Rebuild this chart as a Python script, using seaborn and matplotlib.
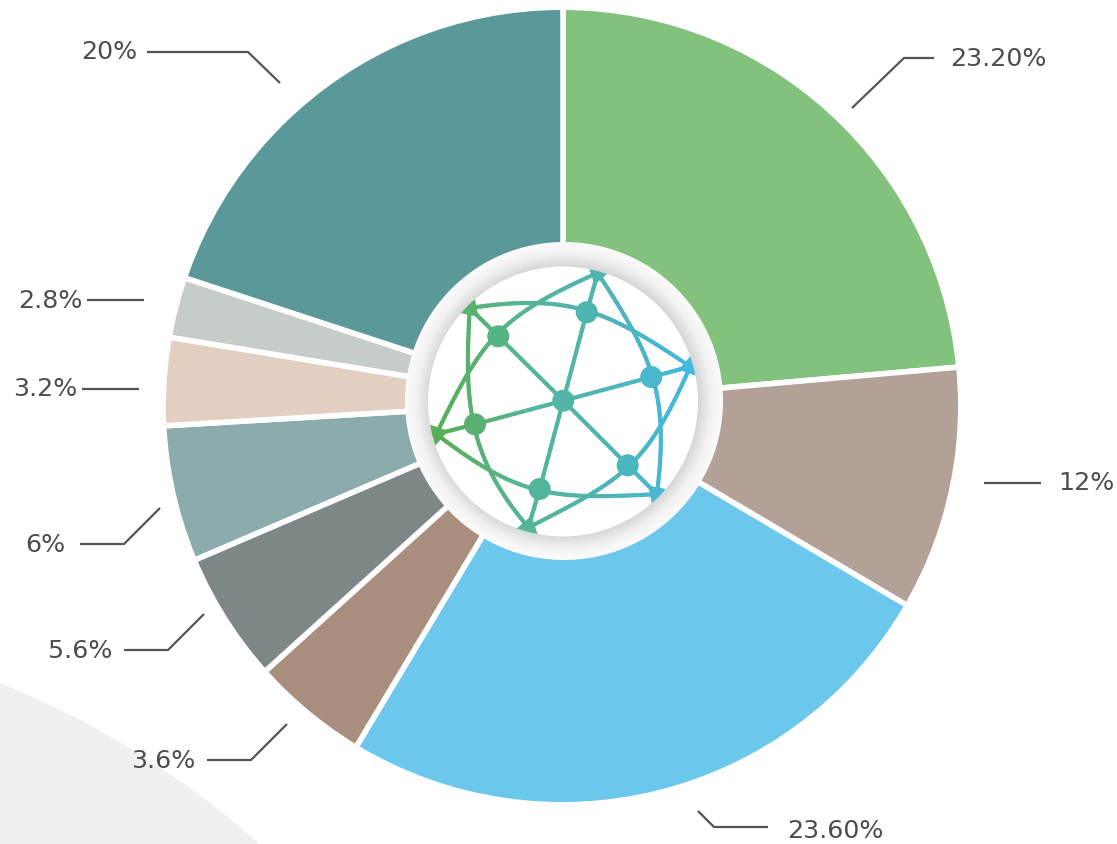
import numpy as np
import matplotlib
matplotlib.use('Agg')
import matplotlib.pyplot as plt
import seaborn as sns
from matplotlib.collections import LineCollection
from matplotlib.patches import Circle, Polygon

# slice sizes as drawn (the arcs do not quite follow the printed numbers)
sizes = [23.6, 9.9, 25.1, 4.7, 5.25, 5.5, 3.55, 2.45, 19.95]
labels = ['23.20%', '12%', '23.60%', '3.6%', '5.6%', '6%', '3.2%', '2.8%', '20%']
colors = ['#82c27c', '#b3a198', '#6cc7ec', '#aa8e7d', '#7e8788',
          '#8babad', '#e3cfc1', '#c6ccc8', '#5b9899']

# label centre and leader line, in pixels
label_pos = [(998, 59), (1086, 483), (835, 831), (163, 761), (80, 651),
             (45, 545), (45, 389), (50, 301), (109, 52)]
leaders = [
    [(852, 108), (904, 58), (934, 58)],
    [(984, 483), (1041, 483)],
    [(698, 811), (714, 827), (768, 827)],
    [(207, 760), (251, 760), (287, 724)],
    [(124, 650), (168, 650), (204, 614)],
    [(80, 544), (124, 544), (160, 508)],
    [(82, 389), (139, 389)],
    [(87, 300), (144, 300)],
    [(147, 52), (248, 52), (280, 83)],
]

# globe logo
hub = (563.3, 400.7)
nodes = [(498.3, 336.3), (586.7, 312.3), (651.3, 377), (627.7, 465.3), (539.7, 489), (475, 424.3)]
corners = [(470, 308.3), (597.7, 273.3), (690, 366.7), (656.7, 494), (528.3, 527.3), (436.7, 434)]
# each arc: corner, way point, node, way point, corner
arcs = [
    [corners[0], (533.3, 301.7), nodes[1], (633.3, 330), corners[2]],
    [corners[1], (633.3, 330), nodes[2], (661.7, 430), corners[3]],
    [corners[2], (660, 428.3), nodes[3], (588.3, 496.7), corners[4]],
    [corners[3], (588.3, 496.7), nodes[4], (490, 471.7), corners[5]],
    [corners[4], (490, 471.7), nodes[5], (466.7, 366.7), corners[0]],
    [corners[5], (466.7, 373), nodes[0], (536.7, 301.7), corners[1]],
]

sns.set_theme(style='white')
plt.rcParams['font.family'] = ['DejaVu Sans']

fig = plt.figure(figsize=(11.17, 8.44), dpi=100)
ax = fig.add_axes([0, 0, 1, 1])

# pale shape in the lower left corner
ax.add_patch(Circle((-337.5, 1518.5), 901, color='#f0f0f0', lw=0, zorder=0))

# y axis runs downwards, so the pie goes clockwise from the top.
# the slices meet a little above the middle of the outer circle, so draw the
# pie too big around that point and cut it back to the circle
wedges, _ = ax.pie(sizes, colors=sns.color_palette(colors), startangle=-90, counterclock=True,
                   center=(563, 402), radius=430, frame=True,
                   wedgeprops=dict(edgecolor='white', linewidth=4))
ax.set_xlim(0, 1117)
ax.set_ylim(844, 0)
ax.axis('off')
outer = Circle((562, 406), 396, transform=ax.transData)
for w in wedges:
    w.set_clip_on(True)  # pie turns clipping off
    w.set_clip_path(outer)

for text, pos, leader in zip(labels, label_pos, leaders):
    ax.text(pos[0], pos[1], text, ha='center', va='center', fontsize=18.2, color='#4d4d4d')
    xs, ys = zip(*leader)
    ax.plot(xs, ys, color='#555555', lw=1.6, solid_joinstyle='miter', solid_capstyle='butt')

# grey ring around the logo, darker towards the inside
ring_r = np.linspace(159, 135, 25)
ring_c = sns.blend_palette(['#fbfbfb', '#f1f1f1', '#d6d6d6'], len(ring_r))
for r, c in zip(ring_r, ring_c):
    ax.add_patch(Circle((564, 401), r, color=c, lw=0, zorder=5))
disc = Circle((563, 401.5), 135, facecolor='white', lw=0, zorder=6)
ax.add_patch(disc)

# logo colours run from green on the left to blue on the right
cmap = sns.blend_palette(['#5aae55', '#55b596', '#4fb5b5', '#44b8e0'], as_cmap=True)
norm = plt.Normalize(437, 690)


def draw_line(points):
    pts = np.array(points, dtype=float)
    segs = np.stack([pts[:-1], pts[1:]], axis=1)
    lc = LineCollection(segs, array=segs[:, :, 0].mean(axis=1), cmap=cmap, norm=norm,
                        linewidth=3, capstyle='round', zorder=7)
    ax.add_collection(lc)
    lc.set_clip_path(disc)


def bend(way):
    # smooth curve through the five way points
    way = np.array(way)
    t = np.linspace(0, 1, len(way))
    tt = np.linspace(0, 1, 50)
    return np.column_stack([np.polyval(np.polyfit(t, way[:, i], 3), tt) for i in range(2)])


for way in arcs:
    draw_line(bend(way))

for n, c in zip(nodes, corners):
    draw_line(np.linspace(hub, n, 12))
    draw_line(np.linspace(n, c, 12))

for x, y in nodes + [hub]:
    ax.add_patch(Circle((x, y), 11, color=cmap(norm(x)), lw=0, zorder=8))

for x, y in corners:
    u = np.array([x - hub[0], y - hub[1]])
    u = u / np.hypot(*u)
    v = np.array([-u[1], u[0]])
    c = np.array([x, y])
    tri = Polygon([c - 12 * u, c + 9 * u + 14 * v, c + 9 * u - 14 * v],
                  color=cmap(norm(x)), lw=0, zorder=8)
    ax.add_patch(tri)
    tri.set_clip_path(disc)

plt.savefig('out.png', dpi=100)
plt.close()
